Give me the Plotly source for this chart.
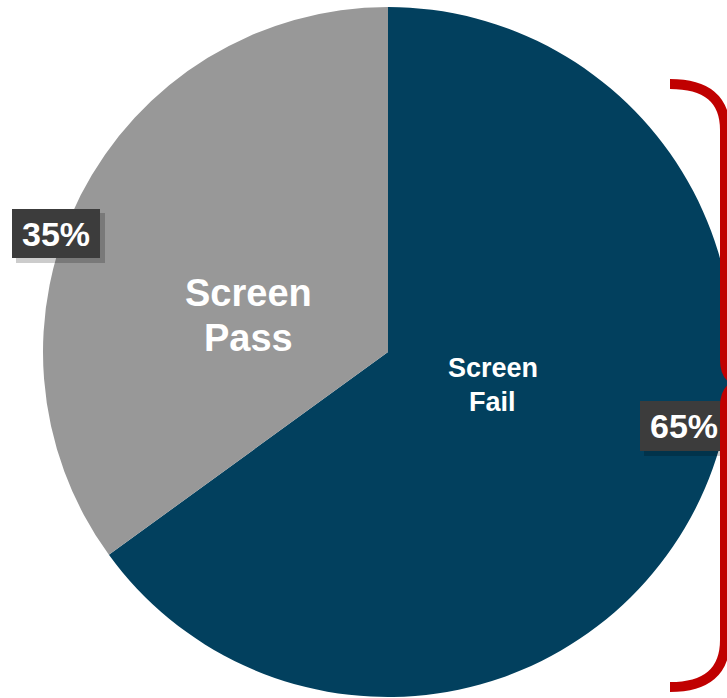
import plotly.graph_objects as go

# ---- data ----
labels = ["Screen Fail", "Screen Pass"]
values = [65, 35]
colors = ["#02405e", "#989898"]
pct_labels = [f"{v}%" for v in values]

# ---- geometry helpers (pixel -> paper) ----
W, H = 776, 698
ML, MR, MT, MB = 43, 43, 7, 1
PW, PH = W - ML - MR, H - MT - MB


def px(x):
    return (x - ML) / PW


def py(y):
    return (H - MB - y) / PH


fig = go.Figure()
fig.add_trace(go.Pie(
    labels=labels, values=values, sort=False, direction="clockwise", rotation=0,
    marker=dict(colors=colors, line=dict(width=0)),
    textinfo="none", hoverinfo="label+percent", showlegend=False,
))

FONT = "Arial, Liberation Sans, sans-serif"
ann = []
# slice names
ann.append(dict(x=px(248.5), y=py(293), text="<b>Screen</b>", font=dict(size=38, color="white", family=FONT)))
ann.append(dict(x=px(248.5), y=py(338), text="<b>Pass</b>", font=dict(size=38, color="white", family=FONT)))
ann.append(dict(x=px(492.5), y=py(368), text="<b>Screen</b>", font=dict(size=27, color="white", family=FONT)))
ann.append(dict(x=px(492.5), y=py(402), text="<b>Fail</b>", font=dict(size=27, color="white", family=FONT)))

shapes = []
# percent boxes (shadow + box as shapes, text as annotation)
boxes = [(12, 100, 209, 258, 56, pct_labels[1]), (640, 728, 401, 451, 683.5, pct_labels[0])]
for x0, x1, y0, y1, tx, t in boxes:
    shapes.append(dict(type="rect", xref="paper", yref="paper", layer="above",
                       x0=px(x0 + 4), x1=px(x1 + 5), y0=py(y1 + 5), y1=py(y0 + 4),
                       fillcolor="rgba(0,0,0,0.2)", line=dict(width=0)))
    shapes.append(dict(type="rect", xref="paper", yref="paper", layer="above",
                       x0=px(x0), x1=px(x1), y0=py(y1), y1=py(y0),
                       fillcolor="#3c3c3c", line=dict(width=0)))
    ann.append(dict(x=px(tx), y=py((y0 + y1) / 2), text=f"<b>{t}</b>",
                    font=dict(size=34, color="white", family=FONT)))

for a in ann:
    a.update(xref="paper", yref="paper", xanchor="center", yanchor="middle", showarrow=False)

# red curly bracket (pixel path converted to paper)
pts = [
    ("M", [(670, 84)]),
    ("Q", [(725, 84), (725, 130)]),
    ("L", [(725, 360)]),
    ("Q", [(725, 383), (748, 383)]),
    ("Q", [(725, 383), (725, 406)]),
    ("L", [(725, 640)]),
    ("Q", [(725, 687), (670, 687)]),
]
path = " ".join(cmd + " " + " ".join(f"{px(x):.5f},{py(y):.5f}" for x, y in p) for cmd, p in pts)
shapes.append(dict(type="path", xref="paper", yref="paper", path=path, layer="above",
                   line=dict(color="#c00000", width=10)))

fig.update_layout(
    width=W, height=H, margin=dict(l=ML, r=MR, t=MT, b=MB),
    paper_bgcolor="white", plot_bgcolor="white",
    annotations=ann, shapes=shapes,
)

fig.write_html("out.html", config={"displayModeBar": False},
               post_script="document.body.style.margin='0';document.body.style.overflow='hidden';")
